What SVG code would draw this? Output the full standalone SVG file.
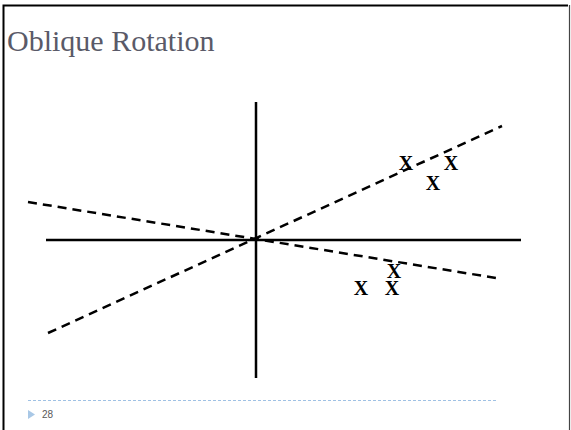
<svg xmlns="http://www.w3.org/2000/svg" width="571" height="430" viewBox="0 0 571 430">
<style>
.axis{stroke:#000;stroke-width:2.5;fill:none}
.dash{stroke:#000;stroke-width:2.5;fill:none;stroke-dasharray:9 6}
.x{font-family:"Liberation Serif",serif;font-weight:bold;font-size:20px;fill:#000;text-anchor:middle}
</style>
<rect width="571" height="430" fill="#fff"/>
<g id="frame">
<path d="M3.5 430 V5.5 H568" stroke="#000" stroke-width="2" fill="none"/>
<path d="M569.5 5 V430" stroke="#444" stroke-width="1.2" fill="none"/>
</g>
<g id="title">
<text x="7" y="51" font-family="Liberation Serif,serif" font-size="30" fill="#5a5a68">Oblique Rotation</text>
</g>
<g id="connectors">
<line class="axis" x1="256" y1="102" x2="256" y2="378"/>
<line class="axis" x1="46" y1="240" x2="521" y2="240"/>
<line class="dash" x1="48" y1="333" x2="502" y2="126"/>
<line class="dash" x1="28" y1="202" x2="496" y2="278"/>
</g>
<g id="points">
<text class="x" x="406" y="170">X</text>
<text class="x" x="451" y="170">X</text>
<text class="x" x="433" y="190">X</text>
<text class="x" x="394" y="278">X</text>
<text class="x" x="361" y="295">X</text>
<text class="x" x="392" y="295">X</text>
</g>
<g id="footer">
<line x1="28" y1="400.5" x2="497" y2="400.5" stroke="#9fc1e4" stroke-width="1" stroke-dasharray="3 2"/>
<polygon points="28,410 35,414.5 28,419" fill="#a9c8e6"/>
<text x="42" y="418" font-family="Liberation Sans,sans-serif" font-size="10" fill="#595959">28</text>
</g>
</svg>
